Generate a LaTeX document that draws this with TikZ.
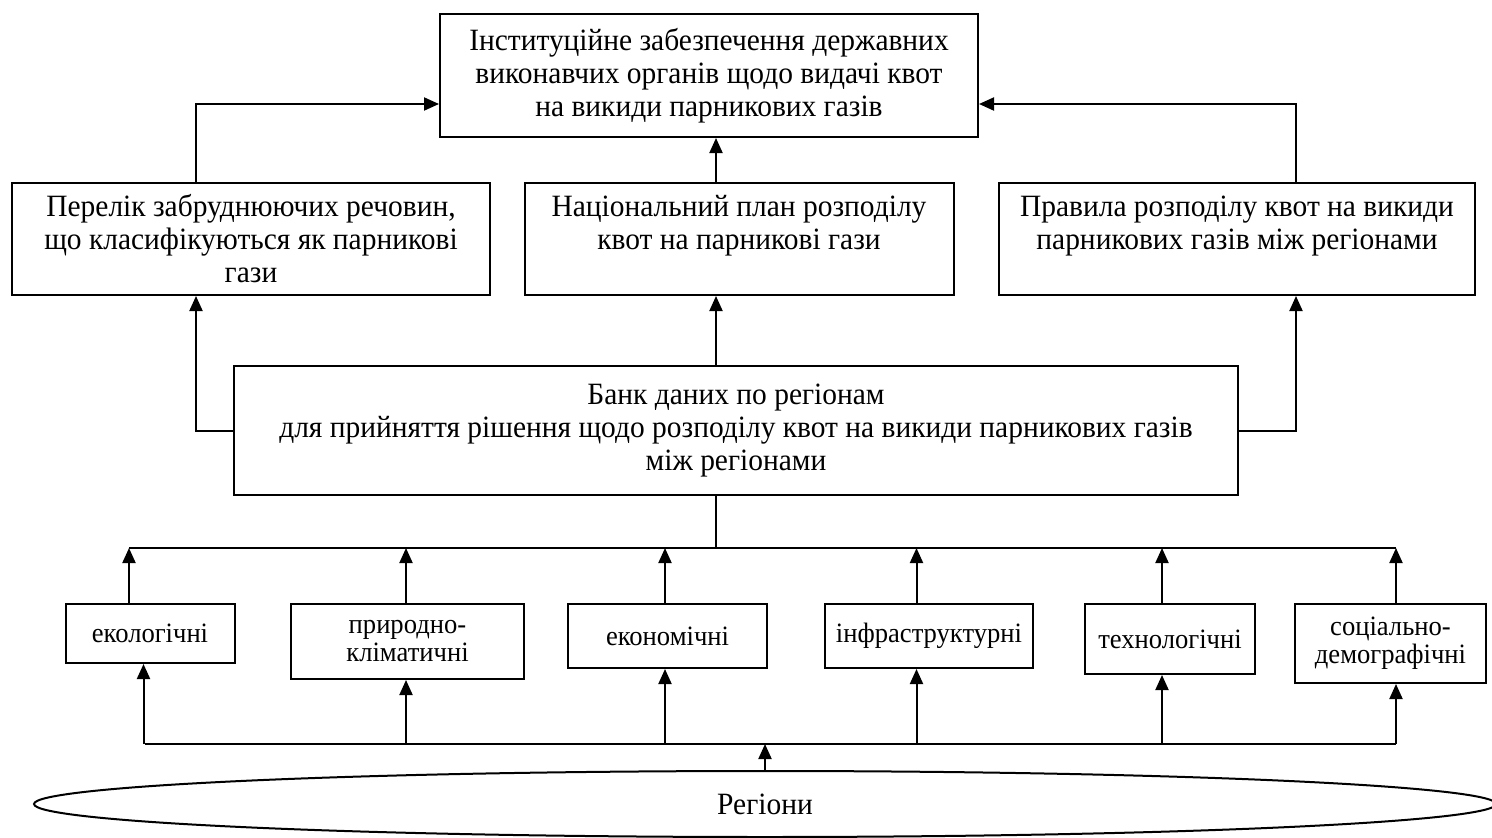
\documentclass[tikz,border=0pt]{standalone}
\usepackage{fontspec}
\setmainfont{Liberation Serif}[FakeStretch=0.95]
\usetikzlibrary{arrows.meta,shapes.geometric}

\tikzset{
  blk/.style={draw, line width=2pt, align=center, inner sep=2pt},
  fct/.style={blk, font=\fontsize{28}{28}\selectfont},
}

\begin{document}
\begin{tikzpicture}[x=1pt,y=-1pt,line width=2pt,>={Triangle[length=15pt,width=13pt]},
  font=\fontsize{31}{33}\selectfont]
		\useasboundingbox (0,0) rectangle (1492,838);
		% upper part
		\node[blk,minimum width=538pt,minimum height=123pt] (inst) at (709,75.5)
		  {Інституційне забезпечення державних\\виконавчих органів щодо видачі квот\\на викиди парникових газів};
		\node[blk,minimum width=478pt,minimum height=112pt] (list) at (251,239)
		  {Перелік забруднюючих речовин,\\що класифікуються як парникові\\гази};
		\node[blk,minimum width=429pt,minimum height=112pt] (plan) at (739,239)
		  {Національний план розподілу\\квот на парникові гази\\\mbox{}};
		\node[blk,minimum width=476pt,minimum height=112pt] (rules) at (1237,239)
		  {Правила розподілу квот на викиди\\парникових газів між регіонами\\\mbox{}};
		\node[blk,minimum width=1004pt,minimum height=129pt] (bank) at (736,430.5)
		  {Банк даних по регіонам\\для прийняття рішення щодо розподілу квот на викиди парникових газів\\між регіонами};
		% factors
		\node[fct,minimum width=169pt,minimum height=59pt] (eco) at (150,633.5) {екологічні};
		\node[fct,minimum width=233pt,minimum height=75pt] (nat) at (407.5,641.5) {природно-\\кліматичні};
		\node[fct,minimum width=199pt,minimum height=64pt] (econ) at (667.5,636) {економічні};
		\node[fct,minimum width=208pt,minimum height=64pt] (infra) at (929,636) {інфраструктурні};
		\node[fct,minimum width=170pt,minimum height=70pt] (tech) at (1170,639) {технологічні};
		\node[fct,minimum width=191pt,minimum height=79pt] (soc) at (1390.5,643.5) {соціально-\\демографічні};
		\node[draw,ellipse,line width=2pt,minimum width=1462pt,minimum height=66pt] (reg) at (765,804) {Регіони};
		%
		\coordinate (spine) at (716,0);
		\coordinate (busT) at (129,548);
		\coordinate (busTe) at (1396,548);
		\coordinate (busB) at (145,744);
		\coordinate (busBe) at (1396,744);
		%
		\draw[->] ([xshift=-55pt]list.north) |- ([yshift=-28.5pt]inst.west);
		\draw[->] ([xshift=59pt]rules.north) |- ([yshift=-28.5pt]inst.east);
		\draw[->] (plan.north -| spine) -- (inst.south -| spine);
		\draw[->] (bank.west) -| ([xshift=-55pt]list.south);
		\draw[->] (bank.east) -| ([xshift=59pt]rules.south);
		\draw[->] (bank.north -| spine) -- (plan.south -| spine);
		\draw (bank.south -| spine) -- (spine |- busT);
		\draw (busT) -- (busTe);
		\draw (busB) -- (busBe);
		\foreach \n/\dt/\db in {eco/-21/-6.5,nat/-1.5/-1.5,econ/-2.5/-2.5,infra/-12.5/-12.5,tech/-8/-8,soc/5.5/5.5}{
		  \draw[->] ([xshift=\dt pt]\n.north) -- ([xshift=\dt pt]\n.north |- busT);
		  \draw[->] ([xshift=\db pt]\n.south |- busB) -- ([xshift=\db pt]\n.south);
		}
		\draw[->] (reg.north) -- (reg.north |- busB);
	\end{tikzpicture}
\end{document}
